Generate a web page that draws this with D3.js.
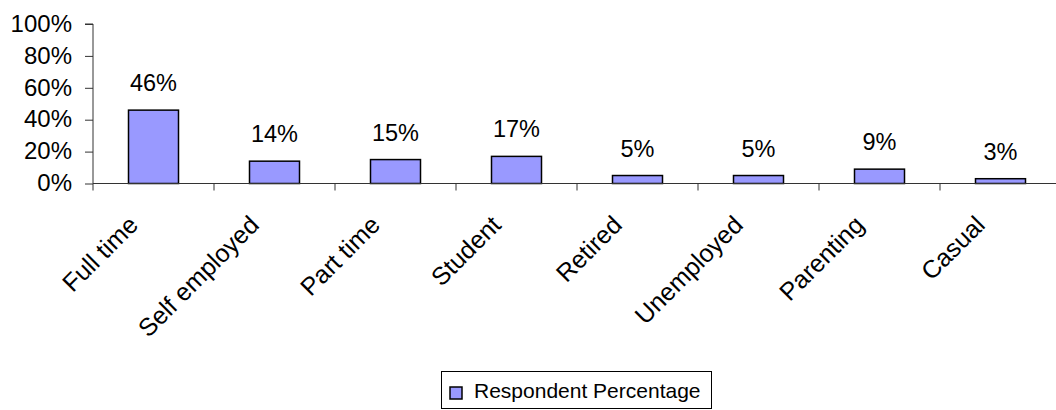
<!DOCTYPE html>
<html>
<head>
<meta charset="utf-8">
<script src="https://cdn.jsdelivr.net/npm/d3@7"></script>
<style>
  html, body { margin: 0; padding: 0; background: #fff; }
  svg { display: block; font-family: "Liberation Sans", Arial, Helvetica, sans-serif; }
</style>
</head>
<body>
<svg id="chart" width="1056" height="410"></svg>
<script>
// Employment status of respondents
const categories = ["Full time", "Self employed", "Part time", "Student", "Retired", "Unemployed", "Parenting", "Casual"];
const percentages = [46, 14, 15, 17, 5, 5, 9, 3];
const yTickValues = [0, 20, 40, 60, 80, 100];
const seriesName = "Respondent Percentage";

const svg = d3.select("#chart");

const axisX = 93, baseY = 183.5, topY = 24;
const step = 121;

const x = d3.scaleBand()
  .domain(categories)
  .range([axisX, axisX + step * categories.length])
  .paddingInner(0)
  .paddingOuter(0);

const y = d3.scaleLinear().domain([0, 100]).range([baseY, topY]);

const barW = 50;

// Bars
svg.append("g").selectAll("rect")
  .data(categories)
  .join("rect")
  .attr("x", d => x(d) + x.bandwidth() / 2 - barW / 2)
  .attr("y", (d, i) => y(percentages[i]))
  .attr("width", barW)
  .attr("height", (d, i) => y(0) - y(percentages[i]))
  .attr("fill", "#9999ff")
  .attr("stroke", "#000")
  .attr("stroke-width", 1.5);

// Value labels above bars
svg.append("g").selectAll("text")
  .data(categories)
  .join("text")
  .attr("x", d => x(d) + x.bandwidth() / 2)
  .attr("y", (d, i) => y(percentages[i]) - 19)
  .attr("text-anchor", "middle")
  .attr("font-size", 23.5)
  .attr("fill", "#000")
  .text((d, i) => percentages[i] + "%");

// Y axis
const yAxis = d3.axisLeft(y)
  .tickValues(yTickValues)
  .tickSize(8)
  .tickPadding(13)
  .tickFormat(d => d + "%");

const gy = svg.append("g")
  .attr("transform", `translate(${axisX},0)`)
  .call(yAxis);
gy.select(".domain").attr("stroke", "#333").attr("d", `M-8,${topY}H0V${baseY}`);
gy.selectAll(".tick line").attr("stroke", "#333");
gy.selectAll(".tick text")
  .attr("font-size", 24)
  .attr("font-family", "Liberation Sans, Arial, sans-serif")
  .attr("fill", "#000")
  .attr("dy", "0.3em");

// X axis baseline with category separators
const gx = svg.append("g").attr("transform", `translate(0,${baseY})`);
gx.append("line")
  .attr("x1", axisX).attr("x2", 1056)
  .attr("y1", 0).attr("y2", 0)
  .attr("stroke", "#333");
const sepPositions = d3.range(categories.length + 1).map(i => axisX + i * step);
gx.selectAll("line.sep")
  .data(sepPositions)
  .join("line")
  .attr("class", "sep")
  .attr("x1", d => d).attr("x2", d => d)
  .attr("y1", 0).attr("y2", 7)
  .attr("stroke", "#333");

// Rotated category labels
gx.selectAll("text.cat")
  .data(categories)
  .join("text")
  .attr("class", "cat")
  .attr("text-anchor", "end")
  .attr("font-size", 25)
  .attr("fill", "#000")
  .attr("transform", d => `translate(${x(d) + x.bandwidth() / 2 - 14},${43}) rotate(-45)`)
  .text(d => d);

// Legend
const legend = svg.append("g");
legend.append("rect")
  .attr("x", 441.5).attr("y", 371.5)
  .attr("width", 270).attr("height", 37)
  .attr("fill", "#fff").attr("stroke", "#000").attr("stroke-width", 1);
legend.append("rect")
  .attr("x", 450).attr("y", 387)
  .attr("width", 12).attr("height", 12)
  .attr("fill", "#9999ff").attr("stroke", "#000").attr("stroke-width", 1.5);
legend.append("text")
  .attr("x", 474).attr("y", 398)
  .attr("font-size", 21)
  .attr("fill", "#000")
  .text(seriesName);
</script>
</body>
</html>
